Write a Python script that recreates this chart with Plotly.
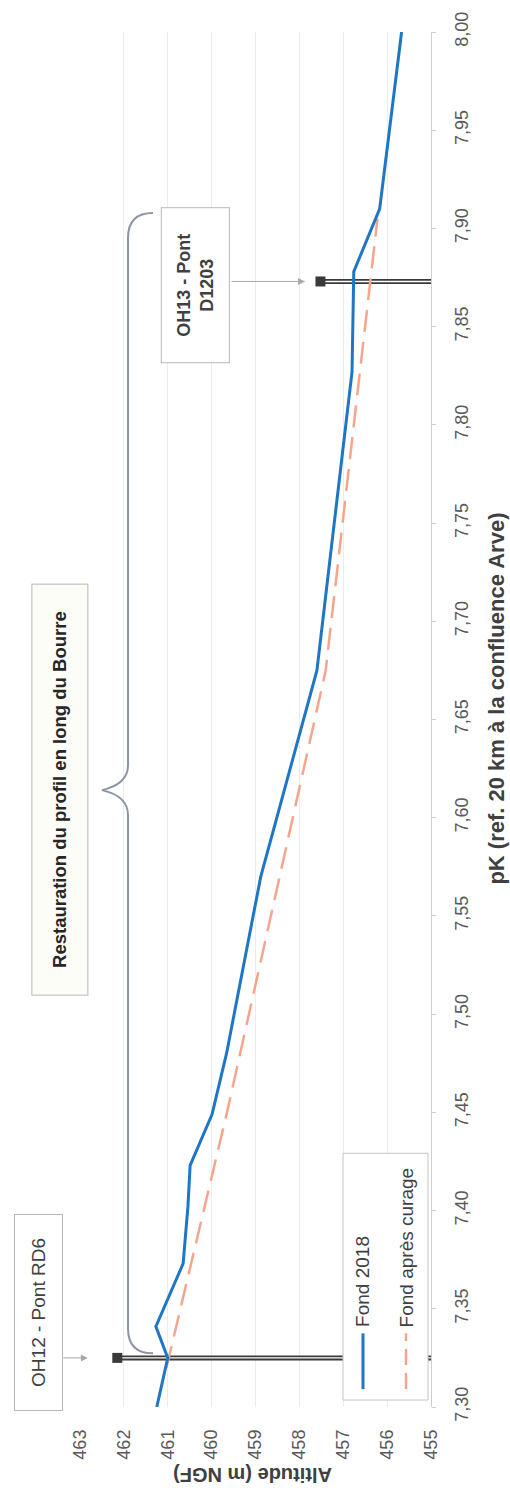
import plotly.graph_objects as go

# ---------------- data ----------------
pk_2018 = [7.300, 7.325, 7.341, 7.373, 7.402, 7.423, 7.449, 7.480, 7.570, 7.675, 7.827, 7.878, 7.910, 8.000]
alt_2018 = [461.25, 461.00, 461.27, 460.65, 460.54, 460.49, 459.99, 459.66, 458.88, 457.60, 456.80, 456.76, 456.17, 455.67]

pk_curage = [7.320, 7.450, 7.675, 7.905]
alt_curage = [461.03, 459.65, 457.40, 456.22]

bridge_names = ["OH12 - Pont RD6", "OH13 - Pont<br>D1203"]
bridge_pk = [7.325, 7.873]
bridge_top = [462.15, 457.52]
bridge_bottom = [455.0, 455.0]
arrow_head_alt = [462.82, 457.87]

alt_ticks = [455, 456, 457, 458, 459, 460, 461, 462, 463]
pk_range = [7.30, 8.00]
alt_range = [463, 455]

brace_label = "Restauration du profil en long du Bourre"
x_title = "pK (ref. 20 km à la confluence Arve)"
y_title = "Altitude (m NGF)"
legend_names = ["Fond 2018", "Fond après curage"]

# ---------------- layout helpers ----------------
W, H = 510, 1497
L, R, T, B = 80, 79, 25, 90
PW, PH = W - L - R, H - T - B


def px(x):
    return (x - L) / PW


def py(y):
    return (H - B - y) / PH


FONT = "Liberation Sans, Arial, sans-serif"
BLUE = "#1f76c4"
SALMON = "#f6a58d"
DARK = "#3a3a3a"
GREY_TXT = "#595959"

fig = go.Figure()

# bridges (double line)
for i in range(len(bridge_pk)):
    fig.add_trace(go.Scatter(x=[bridge_top[i], bridge_bottom[i]], y=[bridge_pk[i], bridge_pk[i]],
                             mode="lines", line=dict(color=DARK, width=5), showlegend=False, hoverinfo="skip"))
    fig.add_trace(go.Scatter(x=[bridge_top[i], bridge_bottom[i]], y=[bridge_pk[i], bridge_pk[i]],
                             mode="lines", line=dict(color="white", width=1.4), showlegend=False, hoverinfo="skip"))
fig.add_trace(go.Scatter(x=bridge_top, y=bridge_pk, mode="markers",
                         marker=dict(symbol="square", size=10, color=DARK), showlegend=False, hoverinfo="skip"))

# profiles
fig.add_trace(go.Scatter(x=alt_curage, y=pk_curage, mode="lines", name=legend_names[1],
                         line=dict(color=SALMON, width=2.5, dash="22px,10px"), showlegend=False))
fig.add_trace(go.Scatter(x=alt_2018, y=pk_2018, mode="lines", name=legend_names[0],
                         line=dict(color=BLUE, width=3), showlegend=False))

shapes = []
# brace
bx, bx_end, bx_tip = 128, 153, 102
by_top, by_tip, by_bot = 207, 787, 1353
pts = (f"M {px(bx_end)} {py(by_top)} Q {px(bx)} {py(by_top)} {px(bx)} {py(by_top + 25)} "
       f"L {px(bx)} {py(by_tip - 25)} Q {px(bx)} {py(by_tip - 6)} {px(bx_tip)} {py(by_tip)} "
       f"Q {px(bx)} {py(by_tip + 6)} {px(bx)} {py(by_tip + 25)} "
       f"L {px(bx)} {py(by_bot - 25)} Q {px(bx)} {py(by_bot)} {px(bx_end)} {py(by_bot)}")
shapes.append(dict(type="path", xref="paper", yref="paper", path=pts,
                   line=dict(color="#8d95a5", width=2)))

# fake rotated legend
shapes.append(dict(type="rect", xref="paper", yref="paper", layer="above",
                   x0=px(343), x1=px(428), y0=py(1400), y1=py(1152),
                   fillcolor="white", line=dict(color="#c4c4c4", width=1)))
shapes.append(dict(type="line", xref="paper", yref="paper", layer="above",
                   x0=px(363), x1=px(363), y0=py(1389), y1=py(1333),
                   line=dict(color=BLUE, width=3)))
shapes.append(dict(type="line", xref="paper", yref="paper", layer="above",
                   x0=px(406), x1=px(406), y0=py(1389), y1=py(1333),
                   line=dict(color=SALMON, width=2.5, dash="16px,8px")))

annotations = []
annotations.append(dict(xref="paper", yref="paper", x=px(363), y=py(1329), text=legend_names[0],
                        textangle=-90, showarrow=False, xanchor="center", yanchor="bottom",
                        font=dict(family=FONT, size=19, color="#404040")))
annotations.append(dict(xref="paper", yref="paper", x=px(406), y=py(1329), text=legend_names[1],
                        textangle=-90, showarrow=False, xanchor="center", yanchor="bottom",
                        font=dict(family=FONT, size=19, color="#404040")))

# bridge label boxes
annotations.append(dict(xref="paper", yref="paper", x=px(38.5), y=py(1312), text=bridge_names[0],
                        textangle=-90, showarrow=False, width=195, height=47, borderpad=0,
                        xanchor="center", yanchor="middle",
                        bordercolor="#b8b8b8", borderwidth=1, bgcolor="white",
                        font=dict(family=FONT, size=19, color="#404040")))
annotations.append(dict(xref="paper", yref="paper", x=px(195.5), y=py(280), text="<b>" + bridge_names[1] + "</b>",
                        textangle=-90, showarrow=False, width=154, height=67, borderpad=0,
                        xanchor="center", yanchor="middle",
                        bordercolor="#b8b8b8", borderwidth=1, bgcolor="white",
                        font=dict(family=FONT, size=18, color="#404040")))
annotations.append(dict(xref="paper", yref="paper", x=px(59.5), y=py(787), text="<b>" + brace_label + "</b>",
                        textangle=-90, showarrow=False, width=410, height=55, borderpad=0,
                        xanchor="center", yanchor="middle",
                        bordercolor="#b8b8b8", borderwidth=1, bgcolor="#fdfdf8",
                        font=dict(family=FONT, size=18.5, color="#262626")))

# arrows to bridges
for i, off in enumerate([-26, -75]):
    annotations.append(dict(xref="x", yref="y", x=arrow_head_alt[i], y=bridge_pk[i], text="",
                            showarrow=True, ax=off, ay=0, arrowhead=2, arrowsize=1.4,
                            arrowwidth=1, arrowcolor="#a8a8a8"))

# axis titles
annotations.append(dict(xref="paper", yref="paper", x=px(497), y=py(695), text="<b>" + x_title + "</b>",
                        textangle=-90, showarrow=False, xanchor="center", yanchor="middle",
                        font=dict(family=FONT, size=22, color="#404040")))
annotations.append(dict(xref="paper", yref="paper", x=px(253), y=py(1476), text="<b>" + y_title + "</b>",
                        textangle=180, showarrow=False, xanchor="center", yanchor="middle",
                        font=dict(family=FONT, size=20, color="#404040")))

fig.update_layout(
    width=W, height=H,
    margin=dict(l=L, r=R, t=T, b=B),
    paper_bgcolor="white", plot_bgcolor="white",
    separators=", ",
    font=dict(family=FONT, color=GREY_TXT),
    shapes=shapes, annotations=annotations,
    showlegend=False,
    xaxis=dict(range=alt_range, tickvals=alt_ticks, tickangle=-90, showgrid=True,
               gridcolor="#ececec", gridwidth=1, zeroline=False, showline=False,
               ticks="", ticklabelstandoff=18,
               tickfont=dict(family=FONT, size=18, color=GREY_TXT)),
    yaxis=dict(range=pk_range, dtick=0.05, tick0=7.30, tickformat=".2f", side="right",
               tickangle=-90, showgrid=False, zeroline=False, showline=True,
               linecolor="#cfcfcf", linewidth=1, ticks="outside", ticklen=4, tickcolor="#cfcfcf",
               ticklabelstandoff=10,
               tickfont=dict(family=FONT, size=18, color=GREY_TXT)),
)

fig.write_html("out.html", config={"displayModeBar": False},
               post_script="document.body.style.margin='0px';")
